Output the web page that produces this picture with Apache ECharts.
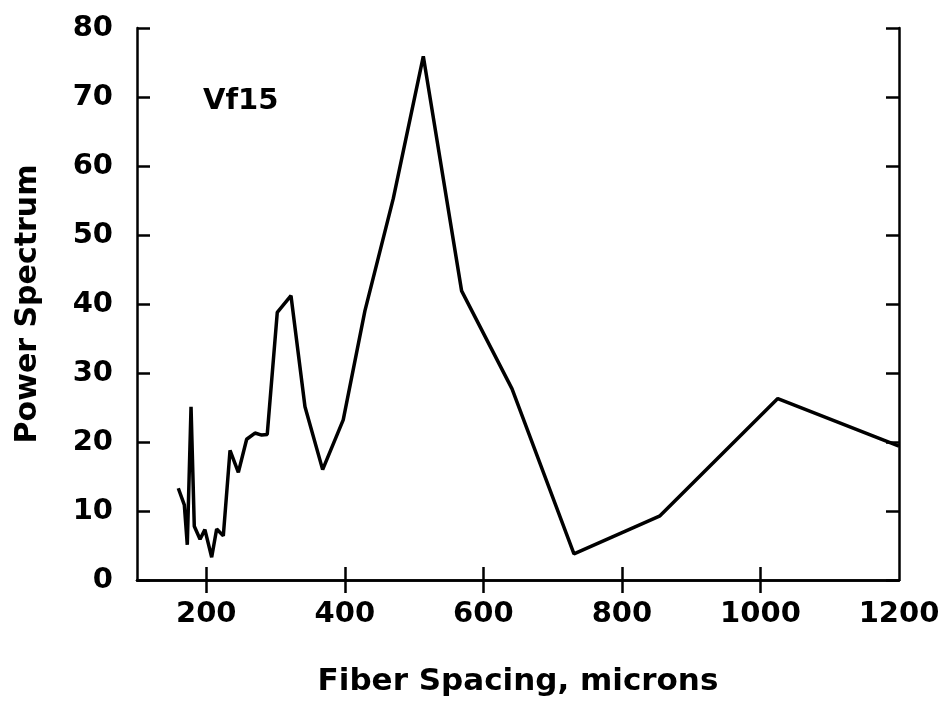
<!DOCTYPE html>
<html><head><meta charset="utf-8">
<script src="https://cdn.jsdelivr.net/npm/echarts@6/dist/echarts.min.js"></script>
<style>html,body{margin:0;padding:0;background:#fff}#c{width:945px;height:702px}</style>
</head><body><div id="c"></div>
<script>
const spacing = [159.6, 168.3, 172.6, 178.0, 182.7, 191.0, 198.0, 207.8, 215.0, 224.6, 234.3, 246.3, 258.3, 270.3, 280.0, 288.0, 302.5, 322.3, 342.5, 368.0, 397.7, 429.0, 470.0, 513.3, 568.6, 641.4, 730.8, 855.0, 1025.0, 1200.0];
const power   = [13.3, 10.9, 5.1, 25.1, 7.8, 5.9, 7.3, 3.3, 7.4, 6.4, 18.8, 15.6, 20.4, 21.3, 21.0, 21.1, 38.8, 41.2, 25.1, 16.0, 23.2, 39.0, 55.3, 75.9, 41.9, 27.7, 3.8, 9.3, 26.3, 19.4];
const xLabelValues = [200, 400, 600, 800, 1000, 1200];
const xTickValues = [200, 400, 600, 800, 1000];
const sampleName = 'Vf15';
const xTitle = 'Fiber Spacing, microns';
const yTitle = 'Power Spectrum';

const FONT = 'DejaVu Sans';
const chart = echarts.init(document.getElementById('c'), null, {renderer: 'canvas'});
const axisLine = {show: true, lineStyle: {color: '#000', width: 2.5}};
const tick = {show: true, inside: true, length: 13, lineStyle: {color: '#000', width: 2.5}};
const lbl = {color: '#000', fontFamily: FONT, fontWeight: 'bold', fontSize: 29, formatter: v => String(v)};
chart.setOption({
  animation: false,
  backgroundColor: '#fff',
  grid: {left: 137, right: 46, top: 28, bottom: 117, show: false},
  title: {
    text: sampleName, left: 198, top: 82,
    textStyle: {color: '#000', fontFamily: FONT, fontWeight: 'bold', fontSize: 29}
  },
  xAxis: [
    {
      type: 'value', min: 100, max: 1200, position: 'bottom',
      axisLine: axisLine,
      axisTick: Object.assign({}, tick, {customValues: xTickValues}),
      axisLabel: Object.assign({}, lbl, {margin: 20, customValues: xLabelValues}),
      splitLine: {show: false},
      name: xTitle, nameLocation: 'middle', nameGap: 86,
      nameTextStyle: {color: '#000', fontFamily: FONT, fontWeight: 'bold', fontSize: 31}
    },
    {
      type: 'value', min: 100, max: 1200, position: 'top',
      axisLine: axisLine,
      axisTick: Object.assign({}, tick, {customValues: xTickValues}),
      axisLabel: {show: false},
      splitLine: {show: false}
    }
  ],
  yAxis: [
    {
      type: 'value', min: 0, max: 80, interval: 10, position: 'left',
      axisLine: axisLine, axisTick: tick,
      axisLabel: Object.assign({}, lbl, {margin: 24}),
      splitLine: {show: false},
      name: yTitle, nameLocation: 'middle', nameGap: 94, nameRotate: 90,
      nameTextStyle: {color: '#000', fontFamily: FONT, fontWeight: 'bold', fontSize: 30}
    },
    {
      type: 'value', min: 0, max: 80, interval: 10, position: 'right',
      axisLine: axisLine, axisTick: tick,
      axisLabel: {show: false},
      splitLine: {show: false}
    }
  ],
  series: [{
    type: 'line',
    data: spacing.map((x, i) => [x, power[i]]),
    showSymbol: false,
    lineStyle: {color: '#000', width: 3.5},
    clip: false
  }]
});
</script></body></html>
